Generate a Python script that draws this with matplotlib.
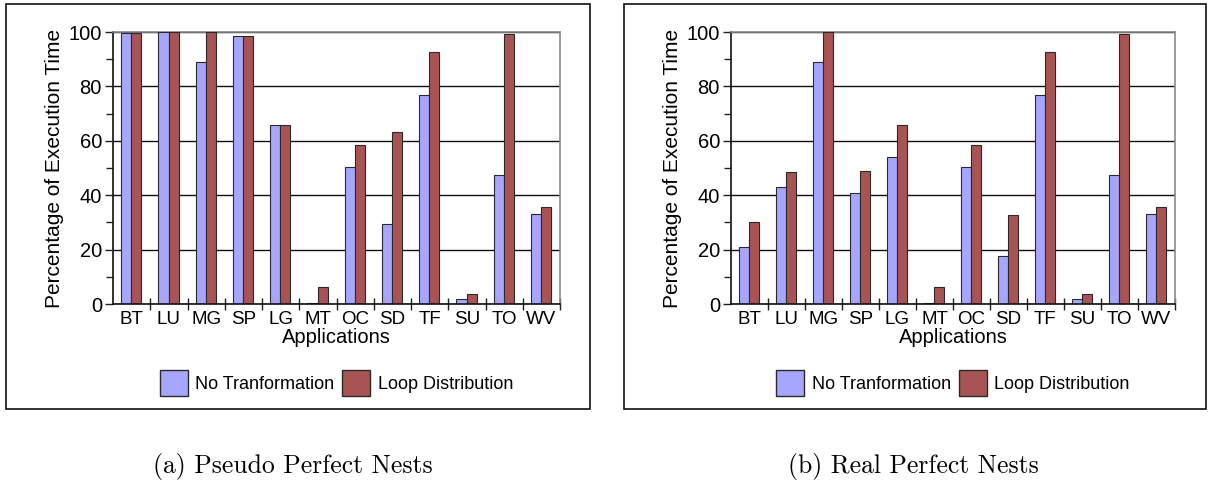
import numpy as np
import matplotlib
matplotlib.use('Agg')
import matplotlib.pyplot as plt
from matplotlib.patches import Rectangle
from matplotlib.ticker import FixedLocator, NullFormatter

plt.rcParams['font.family'] = ['Liberation Sans', 'DejaVu Sans']

# ===== Data: percentage of execution time per application =====
apps = ['BT', 'LU', 'MG', 'SP', 'LG', 'MT', 'OC', 'SD', 'TF', 'SU', 'TO', 'WV']

pseudo_none = [99.5, 100.0, 88.8, 98.5, 65.7, 0.2, 50.2, 29.5, 77.0, 1.7, 47.5, 33.0]
pseudo_dist = [99.5, 100.0, 100.0, 98.5, 65.7, 6.2, 58.3, 63.4, 92.5, 3.6, 99.3, 35.8]

real_none = [20.8, 42.9, 88.8, 40.9, 54.0, 0.2, 50.2, 17.8, 77.0, 1.7, 47.5, 33.0]
real_dist = [30.3, 48.4, 100.0, 48.8, 65.7, 6.2, 58.3, 32.6, 92.5, 3.6, 99.3, 35.8]

captions = ['(a) Pseudo Perfect Nests', '(b) Real Perfect Nests']
series_names = ['No Tranformation', 'Loop Distribution']

c_blue = '#a6a6ff'
c_red = '#a85454'
edge = '#2a2a2a'

W, H = 1208, 484
fig = plt.figure(figsize=(W / 100, H / 100), dpi=100)


def fx(px):
    return px / W


def fy(py):
    return 1 - py / H


def draw_panel(ax, none_vals, dist_vals):
    x = np.arange(len(apps))
    bw = 0.27
    ax.bar(x - 0.145, none_vals, bw, color=c_blue, edgecolor=edge,
           linewidth=0.8, label=series_names[0], zorder=3)
    ax.bar(x + 0.125, dist_vals, bw, color=c_red, edgecolor=edge,
           linewidth=0.8, label=series_names[1], zorder=3)

    ax.set_xlim(-0.5, len(apps) - 0.5)
    ax.set_ylim(0, 100)

    # category separators as major ticks, labels on minor ticks
    ax.xaxis.set_major_locator(FixedLocator(np.arange(0.5, len(apps), 1.0)))
    ax.xaxis.set_major_formatter(NullFormatter())
    ax.xaxis.set_minor_locator(FixedLocator(x))
    ax.set_xticklabels(apps, minor=True)
    ax.tick_params(axis='x', which='major', direction='inout', length=9,
                   width=1, color='#222222')
    ax.tick_params(axis='x', which='minor', length=0, pad=5, labelsize=13.5)

    ax.set_yticks(np.arange(0, 101, 20))
    ax.set_yticks(np.arange(10, 100, 20), minor=True)
    ax.tick_params(axis='y', which='major', direction='out', length=6,
                   width=1, labelsize=14.5, pad=2, color='#222222')
    ax.tick_params(axis='y', which='minor', direction='out', length=5,
                   width=1, color='#222222')

    ax.grid(axis='y', which='major', color='#111111', linewidth=1, zorder=0)
    ax.set_axisbelow(True)

    ax.spines['left'].set_color('#111111')
    ax.spines['bottom'].set_color('#111111')
    ax.spines['top'].set_color('#8a8a8a')
    ax.spines['right'].set_color('#8a8a8a')
    for s in ax.spines.values():
        s.set_linewidth(1.2)
    ax.spines['bottom'].set_zorder(4)

    ax.set_xlabel('Applications', fontsize=14.5, labelpad=0)
    ax.set_ylabel('Percentage of Execution Time', fontsize=15, labelpad=3)

    leg = ax.legend(loc='center', bbox_to_anchor=(0.5, -0.29), ncol=2,
                    frameon=False, fontsize=13, handlelength=1.55,
                    handleheight=1.9, handletextpad=0.4, columnspacing=0.45)
    for h in leg.legend_handles:
        h.set_edgecolor(edge)
        h.set_linewidth(1.0)


panels = [
    (113, 560, pseudo_none, pseudo_dist, (6, 590), captions[0], 293),
    (731, 1175, real_none, real_dist, (624, 1206), captions[1], 913),
]

for x0, x1, none_vals, dist_vals, box, cap, cap_x in panels:
    ax = fig.add_axes([fx(x0), fy(304), fx(x1 - x0), (304 - 32) / H])
    draw_panel(ax, none_vals, dist_vals)

    # frame around each chart
    fig.patches.append(Rectangle((fx(box[0]), fy(409)), fx(box[1] - box[0]),
                                 (409 - 4) / H, transform=fig.transFigure,
                                 fill=False, edgecolor='#111111', linewidth=1.2))

    fig.text(fx(cap_x), fy(467), cap, ha='center', va='center',
             fontsize=18.5, family=['cmr10', 'DejaVu Serif'])

fig.savefig('out.png', dpi=100)
